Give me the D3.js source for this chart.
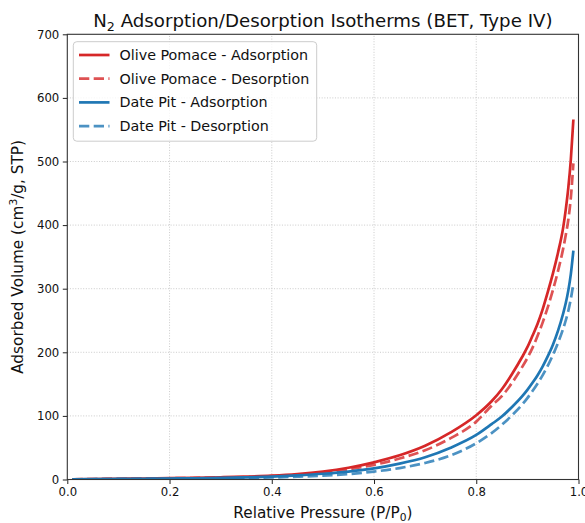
<!DOCTYPE html>
<html>
<head>
<meta charset="utf-8">
<script src="https://cdn.jsdelivr.net/npm/d3@7"></script>
<style>
  html, body { margin: 0; padding: 0; background: #fff; }
  svg { display: block; font-family: "DejaVu Sans", sans-serif; }
</style>
</head>
<body>
<svg id="chart" width="585" height="523"></svg>
<script>
// Relative pressure points (P/P0) shared by all four isotherm branches
const pressure = [0.01, 0.05, 0.1, 0.15, 0.2, 0.25, 0.3, 0.35, 0.4, 0.45, 0.5, 0.55, 0.6, 0.65, 0.7, 0.75, 0.8, 0.83, 0.85, 0.87, 0.89, 0.9, 0.91, 0.92, 0.93, 0.94, 0.95, 0.96, 0.97, 0.975, 0.98, 0.985, 0.99];

// Adsorbed volume, cm3/g STP
const oliveAdsorption = [0.3, 0.8, 1.2, 1.6, 2.1, 2.7, 3.5, 4.5, 6.0, 8.5, 12.5, 18.5, 27, 38, 53, 74, 101, 123, 142, 166, 193, 208, 226, 245, 268, 295, 324, 357, 396, 424, 458, 503, 566];
const oliveDesorption = [0.3, 0.7, 1.0, 1.4, 1.9, 2.4, 3.0, 3.9, 5.2, 7.5, 11, 16, 23, 33, 46, 65, 91, 116, 131, 152, 177, 191, 207, 226, 247, 271, 298, 328, 363, 384, 408, 443, 497];
const dateAdsorption = [0.2, 0.6, 0.9, 1.2, 1.6, 2.0, 2.6, 3.4, 4.6, 6.5, 9, 12.5, 17.5, 25, 35, 50, 70, 87, 99, 114, 131, 141, 152, 164, 178, 194, 212, 234, 261, 277, 297, 323, 360];
const dateDesorption = [0.1, 0.4, 0.7, 0.9, 1.2, 1.5, 1.9, 2.4, 3.2, 4.4, 6, 8.5, 12.5, 18, 26, 38, 57, 73, 86, 101, 118, 128, 139, 151, 164, 179, 196, 215, 237, 250, 265, 284, 308];

const seriesNames = ["Olive Pomace - Adsorption", "Olive Pomace - Desorption", "Date Pit - Adsorption", "Date Pit - Desorption"];
const xTicks = [0.0, 0.2, 0.4, 0.6, 0.8, 1.0];
const yTicks = [0, 100, 200, 300, 400, 500, 600, 700];

const series = [
  { name: seriesNames[0], values: oliveAdsorption, color: "#d62728", dash: null, opacity: 1 },
  { name: seriesNames[1], values: oliveDesorption, color: "#d62728", dash: "10.3,4.4", opacity: 0.8 },
  { name: seriesNames[2], values: dateAdsorption, color: "#1f77b4", dash: null, opacity: 1 },
  { name: seriesNames[3], values: dateDesorption, color: "#1f77b4", dash: "10.3,4.4", opacity: 0.8 }
];

const svg = d3.select("#chart");
const W = 585, H = 523;
const margin = { left: 67.3, right: W - 578.5, top: 34.3, bottom: H - 479.5 };

const x = d3.scaleLinear().domain([0, 1]).range([margin.left, W - margin.right]);
const y = d3.scaleLinear().domain([0, 700]).range([H - margin.bottom, margin.top]);

// grid
const grid = svg.append("g").attr("stroke", "#b0b0b0").attr("stroke-width", 0.8)
  .attr("stroke-dasharray", "1,1.65").attr("opacity", 0.8);
grid.selectAll("line.gx").data(xTicks.slice(1, -1)).join("line")
  .attr("x1", d => x(d)).attr("x2", d => x(d))
  .attr("y1", y(0)).attr("y2", y(700));
grid.selectAll("line.gy").data(yTicks.slice(1, -1)).join("line")
  .attr("x1", x(0)).attr("x2", x(1))
  .attr("y1", d => y(d)).attr("y2", d => y(d));

// curves
svg.append("clipPath").attr("id", "plotclip").append("rect")
  .attr("x", x(0)).attr("y", y(700)).attr("width", x(1) - x(0)).attr("height", y(0) - y(700));

const line = d3.line().x(d => x(d[0])).y(d => y(d[1])).curve(d3.curveMonotoneX);
const curves = svg.append("g").attr("clip-path", "url(#plotclip)");
series.forEach(s => {
  curves.append("path")
    .datum(pressure.map((p, i) => [p, s.values[i]]))
    .attr("d", line)
    .attr("fill", "none")
    .attr("stroke", s.color)
    .attr("stroke-opacity", s.opacity)
    .attr("stroke-width", 2.7)
    .attr("stroke-dasharray", s.dash);
});

// axes
const xAxis = d3.axisBottom(x).tickValues(xTicks).tickFormat(d3.format(".1f")).tickSizeOuter(0).tickSize(4.5).tickPadding(3.5);
const yAxis = d3.axisLeft(y).tickValues(yTicks).tickFormat(d3.format("d")).tickSizeOuter(0).tickSize(4.5).tickPadding(3.5);

const gx = svg.append("g").attr("transform", `translate(0,${y(0)})`).call(xAxis);
const gy = svg.append("g").attr("transform", `translate(${x(0)},0)`).call(yAxis);
[gx, gy].forEach(g => {
  g.select(".domain").remove();
  g.selectAll(".tick line").attr("stroke", "#222").attr("stroke-width", 1);
  g.selectAll(".tick text").attr("fill", "#111").style("font-size", "11.7px").style("font-family", "DejaVu Sans");
});

// frame
svg.append("rect")
  .attr("x", x(0)).attr("y", y(700))
  .attr("width", x(1) - x(0)).attr("height", y(0) - y(700))
  .attr("fill", "none").attr("stroke", "#333").attr("stroke-width", 1.1);

// title
const title = svg.append("text")
  .attr("x", (x(0) + x(1)) / 2).attr("y", 27)
  .attr("text-anchor", "middle").attr("fill", "#111")
  .style("font-size", "18.2px");
title.append("tspan").text("N");
title.append("tspan").attr("dy", 4).style("font-size", "12.7px").text("2");
title.append("tspan").attr("dy", -4).text(" Adsorption/Desorption Isotherms (BET, Type IV)");

// x label
const xl = svg.append("text")
  .attr("x", (x(0) + x(1)) / 2).attr("y", 517.5)
  .attr("text-anchor", "middle").attr("fill", "#111")
  .style("font-size", "15.3px");
xl.append("tspan").text("Relative Pressure (P/P");
xl.append("tspan").attr("dy", 3).style("font-size", "10.7px").text("0");
xl.append("tspan").attr("dy", -3).text(")");

// y label
const yl = svg.append("text")
  .attr("transform", `translate(23,${(y(0) + y(700)) / 2}) rotate(-90)`)
  .attr("text-anchor", "middle").attr("fill", "#111")
  .style("font-size", "15.3px");
yl.append("tspan").text("Adsorbed Volume (cm");
yl.append("tspan").attr("dy", -6).style("font-size", "10.7px").text("3");
yl.append("tspan").attr("dy", 6).text("/g, STP)");

// legend
const lg = svg.append("g");
lg.append("rect")
  .attr("x", 73.3).attr("y", 41.7).attr("width", 243.4).attr("height", 99.5)
  .attr("rx", 3.5).attr("fill", "#fff").attr("fill-opacity", 0.8)
  .attr("stroke", "#ccc").attr("stroke-width", 1);
series.forEach((s, i) => {
  const cy = 55 + i * 23.7;
  lg.append("line")
    .attr("x1", 79).attr("x2", 109.5).attr("y1", cy).attr("y2", cy)
    .attr("stroke", s.color).attr("stroke-opacity", s.opacity)
    .attr("stroke-width", 2.7).attr("stroke-dasharray", s.dash);
  lg.append("text")
    .attr("x", 119.5).attr("y", cy + 5)
    .attr("fill", "#111").style("font-size", "14.3px")
    .text(s.name);
});
</script>
</body>
</html>
